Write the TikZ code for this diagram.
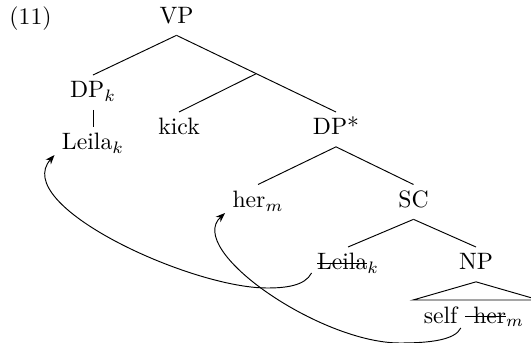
\documentclass[tikz,border=0pt]{standalone}
\usetikzlibrary{arrows.meta,calc}
\newcommand\strikeword[1]{\setbox0=\hbox{#1}\rlap{\rule[2.6pt]{\wd0}{0.5pt}}\box0}
\begin{document}
\begin{tikzpicture}[x=0.422pt,y=-0.422pt,
  lbl/.style={anchor=base,inner xsep=0pt,inner ysep=2.5pt,text height=7pt,text depth=2.3pt},
  br/.style={line width=0.4pt},
  mv/.style={-{Stealth[length=4pt,width=3pt]},line width=0.4pt}]
\useasboundingbox (0,0) rectangle (531,343);
% example number
\node[anchor=base west,inner sep=0pt] (num) at (9,25) {(11)};
% tree nodes
\node[lbl] (VP) at (176.5,23.5) {VP};
\node[lbl] (DPk) at (93,98) {DP$_k$};
\node[lbl] (Leila) at (93,149.5) {Leila$_k$};
\node[lbl] (kick) at (179,135) {kick};
\node[lbl] (DPs) at (336,135) {DP*};
\node[lbl] (her) at (258,207.5) {her$_m$};
\node[lbl] (SC) at (413.5,207.5) {SC};
\node[lbl] (LeilaS) at (348,270) {\strikeword{Leila}$_k$};
\node[lbl] (NP) at (476,270) {NP};
\node[lbl] (selfher) at (474,323) {self \strikeword{\ her}$_m$};
% branches
\coordinate (mid) at ($(VP.south)!0.5!(DPs.north)$);
\draw[br] (VP.south) -- (DPk.north);
\draw[br] (VP.south) -- (DPs.north);
\draw[br] (mid) -- (kick.north);
\draw[br] (DPk.south) -- (Leila.north);
\draw[br] (DPs.south) -- (her.north);
\draw[br] (DPs.south) -- (SC.north);
\draw[br] (SC.south) -- (LeilaS.north);
\draw[br] (SC.south) -- (NP.north);
\draw[br] (NP.south) -- ($(NP.south |- selfher.north)+(-63,0)$) -- ($(NP.south |- selfher.north)+(63,0)$) -- cycle;
% movement arrows
\draw[mv] ($(LeilaS.base west)+(-5,3)$) .. controls (305,286) and (285,288) .. (267,288)
  .. controls (190,288) and (10,205) .. ($(Leila.base west)+(-7,5.5)$);
\draw[mv] ($(selfher.base west)+(37.5,5)$) .. controls (455,340) and (430,343) .. (400,343)
  .. controls (320,343) and (185,250) .. ($(her.base west)+(-7,5.5)$);
\end{tikzpicture}
\end{document}
